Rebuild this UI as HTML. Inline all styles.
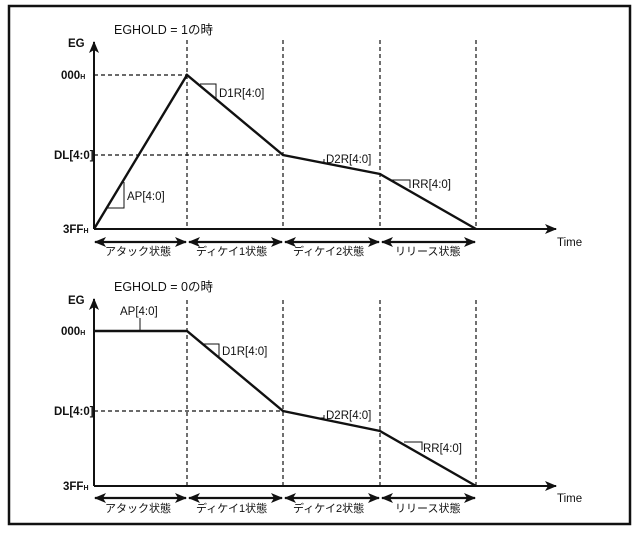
<!DOCTYPE html>
<html><head><meta charset="utf-8"><style>
html,body{margin:0;padding:0;background:#fff}
svg{display:block}
text{font-family:"Liberation Sans","Noto Sans CJK JP",sans-serif;fill:#111}
</style></head><body>
<svg width="643" height="533" viewBox="0 0 643 533" xmlns="http://www.w3.org/2000/svg">
<defs>
<marker id="ar" markerWidth="12" markerHeight="10" refX="11" refY="5" orient="auto" markerUnits="userSpaceOnUse"><path d="M0,0 L12,5 L0,10 L3,5 Z" fill="#111"/></marker>
<marker id="al" markerWidth="12" markerHeight="10" refX="1" refY="5" orient="auto" markerUnits="userSpaceOnUse"><path d="M12,0 L0,5 L12,10 L9,5 Z" fill="#111"/></marker>
</defs>
<rect x="9" y="6" width="621" height="518" fill="none" stroke="#111" stroke-width="2.5"/>
<g stroke="#111" fill="none">
<g stroke-dasharray="4,3" stroke-width="1.2">
<line x1="94" y1="75" x2="187" y2="75"/><line x1="94" y1="155" x2="283" y2="155"/>
<line x1="187" y1="40" x2="187" y2="229"/><line x1="283" y1="40" x2="283" y2="229"/>
<line x1="380" y1="40" x2="380" y2="229"/><line x1="476" y1="40" x2="476" y2="229"/>
</g>
<line x1="94" y1="229" x2="94" y2="42" stroke-width="2" marker-end="url(#ar)"/>
<line x1="94" y1="229" x2="556" y2="229" stroke-width="2" marker-end="url(#ar)"/>
<polyline points="94,229 187,75 283,155 380,174 476,229" stroke-width="2.4"/>
<polyline points="107,208 124,208 124,182" stroke-width="1"/>
<polyline points="200,84 216,84 216,99" stroke-width="1"/>
<polyline points="318,162 324,162 324,159" stroke-width="1"/>
<polyline points="392,180 410,180 410,188" stroke-width="1"/>
<g stroke-width="2.2"><line x1="95" y1="242" x2="186" y2="242" marker-start="url(#al)" marker-end="url(#ar)"/>
<line x1="189" y1="242" x2="282" y2="242" marker-start="url(#al)" marker-end="url(#ar)"/>
<line x1="285" y1="242" x2="379" y2="242" marker-start="url(#al)" marker-end="url(#ar)"/>
<line x1="382" y1="242" x2="475" y2="242" marker-start="url(#al)" marker-end="url(#ar)"/></g>
<g stroke-dasharray="4,3" stroke-width="1.2">
<line x1="94" y1="411" x2="283" y2="411"/>
<line x1="187" y1="300" x2="187" y2="486"/><line x1="283" y1="300" x2="283" y2="486"/>
<line x1="380" y1="300" x2="380" y2="486"/><line x1="476" y1="300" x2="476" y2="486"/>
</g>
<line x1="94" y1="486" x2="94" y2="299" stroke-width="2" marker-end="url(#ar)"/>
<line x1="94" y1="486" x2="556" y2="486" stroke-width="2" marker-end="url(#ar)"/>
<polyline points="94,331 187,331 283,411 380,431 476,486" stroke-width="2.4"/>
<line x1="140" y1="318" x2="140" y2="331" stroke-width="1"/>
<polyline points="203,344 219,344 219,358" stroke-width="1"/>
<polyline points="318,418 324,418 324,415" stroke-width="1"/>
<polyline points="404,442 422,442 422,450" stroke-width="1"/>
<g stroke-width="2.2"><line x1="95" y1="498" x2="186" y2="498" marker-start="url(#al)" marker-end="url(#ar)"/>
<line x1="189" y1="498" x2="282" y2="498" marker-start="url(#al)" marker-end="url(#ar)"/>
<line x1="285" y1="498" x2="379" y2="498" marker-start="url(#al)" marker-end="url(#ar)"/>
<line x1="382" y1="498" x2="475" y2="498" marker-start="url(#al)" marker-end="url(#ar)"/></g>
</g>
<g font-size="11.5">
<text x="114" y="34" font-size="12.5">EGHOLD = 1の時</text>
<text x="68" y="47" font-weight="bold">EG</text>
<text x="61" y="79" font-weight="bold">000<tspan font-size="7">H</tspan></text>
<text x="54" y="159" font-weight="bold">DL[4:0]</text>
<text x="63" y="233" font-weight="bold">3FF<tspan font-size="7">H</tspan></text>
<text x="127" y="200">AP[4:0]</text>
<text x="219" y="97">D1R[4:0]</text>
<text x="326" y="163">D2R[4:0]</text>
<text x="412" y="188">RR[4:0]</text>
<text x="557" y="246">Time</text>
<text x="105" y="255" font-size="11">アタック状態</text>
<text x="196" y="255" font-size="11">ディケイ1状態</text>
<text x="293" y="255" font-size="11">ディケイ2状態</text>
<text x="395" y="255" font-size="11">リリース状態</text>

<text x="114" y="291" font-size="12.5">EGHOLD = 0の時</text>
<text x="68" y="304" font-weight="bold">EG</text>
<text x="61" y="335" font-weight="bold">000<tspan font-size="7">H</tspan></text>
<text x="54" y="415" font-weight="bold">DL[4:0]</text>
<text x="63" y="490" font-weight="bold">3FF<tspan font-size="7">H</tspan></text>
<text x="120" y="315">AP[4:0]</text>
<text x="222" y="355">D1R[4:0]</text>
<text x="326" y="419">D2R[4:0]</text>
<text x="423" y="452">RR[4:0]</text>
<text x="557" y="502">Time</text>
<text x="105" y="512" font-size="11">アタック状態</text>
<text x="196" y="512" font-size="11">ディケイ1状態</text>
<text x="293" y="512" font-size="11">ディケイ2状態</text>
<text x="395" y="512" font-size="11">リリース状態</text>
</g>
</svg>
</body></html>
